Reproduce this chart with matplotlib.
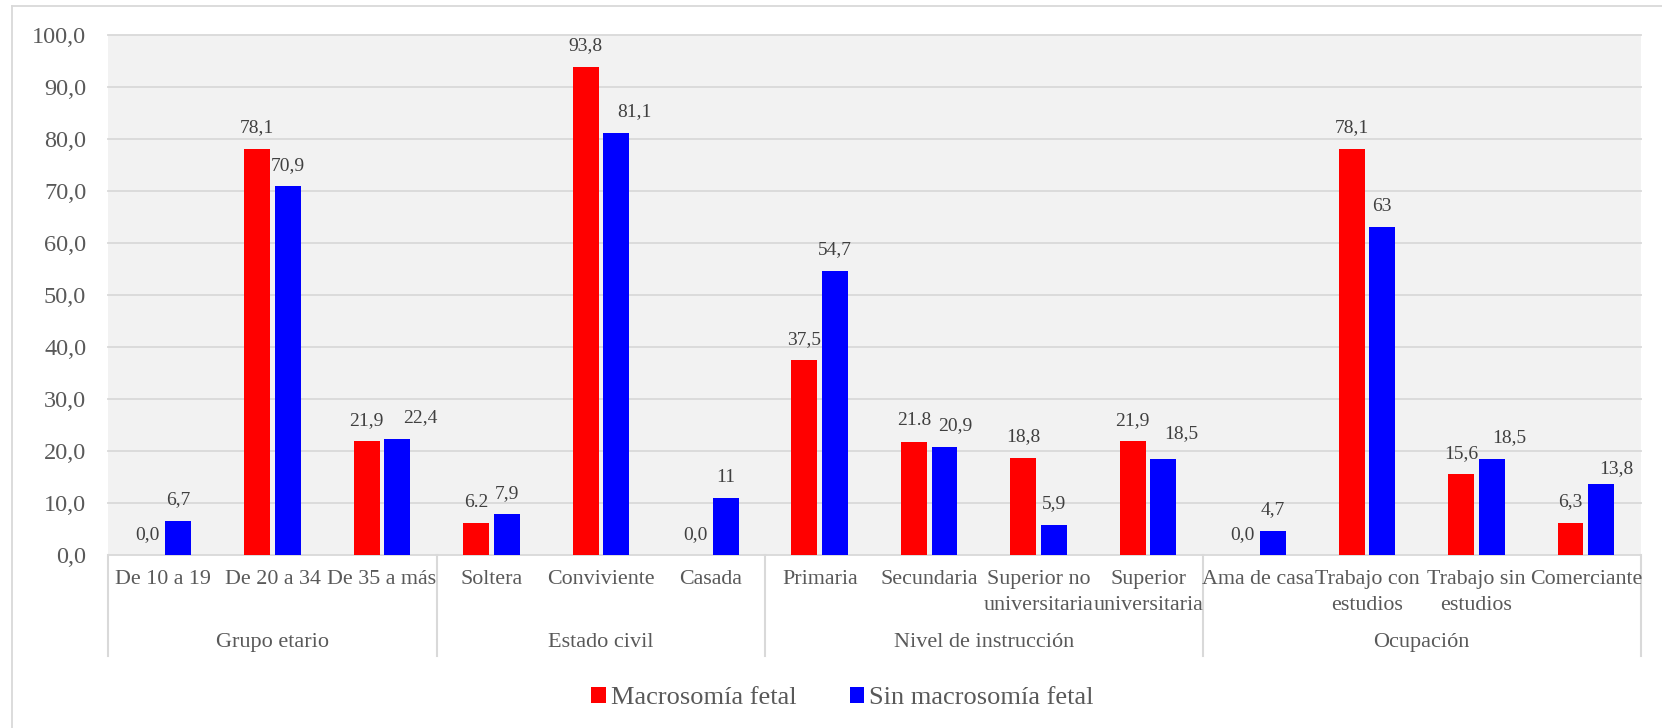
import numpy as np
import matplotlib
matplotlib.use("Agg")
import matplotlib.pyplot as plt
from matplotlib.lines import Line2D
from matplotlib.transforms import blended_transform_factory

plt.rcParams["font.family"] = ["Liberation Serif", "DejaVu Serif"]

# Data
categories = ["De 10 a 19", "De 20 a 34", "De 35 a más",
              "Soltera", "Conviviente", "Casada",
              "Primaria", "Secundaria", "Superior no\nuniversitaria", "Superior\nuniversitaria",
              "Ama de casa", "Trabajo con\nestudios", "Trabajo sin\nestudios", "Comerciante"]
groups = ["Grupo etario", "Estado civil", "Nivel de instrucción", "Ocupación"]
group_sizes = [3, 3, 4, 4]

macro = [0.0, 78.1, 21.9, 6.2, 93.8, 0.0, 37.5, 21.8, 18.8, 21.9, 0.0, 78.1, 15.6, 6.3]
sin_macro = [6.7, 70.9, 22.4, 7.9, 81.1, 11.0, 54.7, 20.9, 5.9, 18.5, 4.7, 63.0, 18.5, 13.8]

macro_labels = ["0,0", "78,1", "21,9", "6.2", "93,8", "0,0", "37,5", "21.8", "18,8", "21,9",
                "0,0", "78,1", "15,6", "6,3"]
sin_labels = ["6,7", "70,9", "22,4", "7,9", "81,1", "11", "54,7", "20,9", "5,9", "18,5",
              "4,7", "63", "18,5", "13,8"]

# labels that were dragged off their default spot (pixels)
sin_nudge = {2: (23, 0), 4: (18, 0), 7: (11, 0), 9: (18, 4), 12: (18, 0), 13: (15, -6)}

fig = plt.figure(figsize=(16.62, 7.28), dpi=100)
ax = fig.add_axes([0.0652, 0.2370, 0.9219, 0.7156])
ax.set_facecolor("#f2f2f2")

x = np.arange(len(categories))
w = 0.237
off = 0.14
ax.bar(x - off, macro, w, color="#ff0000", label="Macrosomía fetal", zorder=3)
ax.bar(x + off, sin_macro, w, color="#0000ff", label="Sin macrosomía fetal", zorder=3)

for i in range(len(categories)):
    ax.annotate(macro_labels[i], (x[i] - off, macro[i]), xytext=(0, 21),
                textcoords="offset pixels", ha="center", va="center",
                fontsize=14, color="#404040")
    dx, dy = sin_nudge.get(i, (0, 0))
    ax.annotate(sin_labels[i], (x[i] + off, sin_macro[i]), xytext=(dx, 21 + dy),
                textcoords="offset pixels", ha="center", va="center",
                fontsize=14, color="#404040")

ax.set_xlim(-0.5, len(categories) - 0.5)
ax.set_ylim(0, 100)
ax.set_yticks(np.arange(0, 101, 10))
ax.set_yticklabels([f"{v:.1f}".replace(".", ",") for v in np.arange(0, 101, 10)])
ax.tick_params(axis="y", length=0, pad=16, labelsize=17.5, labelcolor="#595959")
ax.tick_params(axis="x", length=0, labelbottom=False)
ax.yaxis.grid(True, color="#d9d9d9", linewidth=1.3, zorder=0)
for gl in ax.get_ygridlines():
    gl.set_clip_on(False)
ax.set_axisbelow(True)
for s in ax.spines.values():
    s.set_visible(False)

# two-level category axis
trans = blended_transform_factory(ax.transData, ax.transAxes)
for i, cat in enumerate(categories):
    ax.text(x[i], -0.028, cat, transform=trans, ha="center", va="top",
            fontsize=15.8, color="#595959", linespacing=1.5)

bounds = np.concatenate([[0], np.cumsum(group_sizes)]) - 0.5
for b in bounds:
    ax.add_line(Line2D([b, b], [0, -0.193], transform=trans, color="#d9d9d9",
                       linewidth=1.5, clip_on=False))
for g, lo, hi in zip(groups, bounds[:-1], bounds[1:]):
    ax.text((lo + hi) / 2, -0.168, g, transform=trans, ha="center", va="center",
            fontsize=16, color="#595959")

# chart frame
fig.add_artist(Line2D([11.7 / 1662, 11.7 / 1662], [0, 1 - 5.5 / 728],
                      transform=fig.transFigure, color="#d9d9d9", linewidth=1.3))
fig.add_artist(Line2D([11.7 / 1662, 1], [1 - 5.5 / 728, 1 - 5.5 / 728],
                      transform=fig.transFigure, color="#d9d9d9", linewidth=1.3))

leg = fig.legend(loc="center", bbox_to_anchor=(0.507, 0.041), ncol=2, frameon=False,
                 fontsize=19, handlelength=0.55, handleheight=0.55, handletextpad=0.2,
                 columnspacing=2.0)
for t in leg.get_texts():
    t.set_color("#595959")

fig.savefig("out.png", dpi=100)
